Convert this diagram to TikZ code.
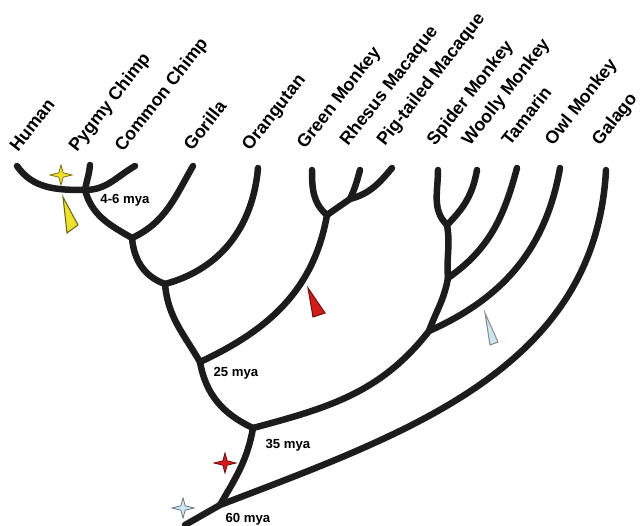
\documentclass[tikz,border=0pt]{standalone}
\usepackage{fontspec}
\setmainfont{Liberation Sans}
\usepackage{tikz}
\usetikzlibrary{positioning}

\definecolor{branchgray}{HTML}{1C1C1C}
\definecolor{markyellow}{HTML}{EEE22E}
\definecolor{markred}{HTML}{D21C1C}
\definecolor{markblue}{HTML}{CDE7F1}

\tikzset{
	branch/.style={draw=branchgray, line width=3.7pt, line cap=round},
	taxon/.style={rotate=52, anchor=base west, inner sep=0pt, font=\bfseries\fontsize{10.2}{11}\selectfont},
	age/.style={inner sep=0pt, font=\bfseries\fontsize{7.5}{8}\selectfont},
	pointer/.style={line width=0.6pt, line join=miter},
	pics/sparkle/.style={code={\filldraw[line width=0.45pt, draw=#1!50!black, fill=#1] (11,0) -- (2.2,2.2) -- (0,10) -- (-2.2,2.2) -- (-11,0) -- (-2.2,-2.2) -- (0,-10) -- (2.2,-2.2) -- cycle;}}
}

\begin{document}
\begin{tikzpicture}[x=0.02cm, y=0.02cm]
	\useasboundingbox (0,0) rectangle (640,525);
	% Tips and forks:
	\coordinate (human) at (17,359);
	\coordinate (pygmy) at (90,360);
	\coordinate (cchimp) at (135,359);
	\coordinate (gorilla) at (193,359);
	\coordinate (orang) at (258,357);
	\coordinate (green) at (312,355);
	\coordinate (rhesus) at (360,355);
	\coordinate (pigtail) at (392,357);
	\coordinate (spider) at (438,355);
	\coordinate (woolly) at (477,355);
	\coordinate (tamarin) at (517,357);
	\coordinate (owl) at (560,357);
	\coordinate (galago) at (606,355);
	\coordinate (jHC) at (85,335);
	\coordinate (jGor) at (132,287);
	\coordinate (jOra) at (165,241);
	\coordinate (j25) at (200,163);
	\coordinate (jOW) at (327,310);
	\coordinate (jMac) at (350,326);
	\coordinate (j35) at (253,97);
	\coordinate (jNW) at (429,194);
	\coordinate (jTam) at (448,247);
	\coordinate (jSW) at (447,300);
	\coordinate (j60) at (220,20);
	\coordinate (root) at (185,0);
	% Branches:
	\draw[branch] (human) to[out=-55, in=180] (jHC) to[out=0, in=-150] (cchimp);
	\draw[branch] (jHC) to[out=80, in=-95] (pygmy);
	\draw[branch] (jHC) to[out=-75, in=150] (jGor);
	\draw[branch] (jGor) to[out=25, in=-120] (gorilla);
	\draw[branch] (jGor) to[out=-85, in=160] (jOra);
	\draw[branch] (jOra) to[out=15, in=-95] (orang);
	\draw[branch] (jOra) to[out=-85, in=120] (j25);
	\draw[branch] (j25) to[out=25, in=-100] (jOW);
	\draw[branch] (jOW) to[out=140, in=-90] (green);
	\draw[branch] (jOW) to[out=35, in=-145] (jMac);
	\draw[branch] (jMac) to[out=65, in=-105] (rhesus);
	\draw[branch] (jMac) to[out=15, in=-130] (pigtail);
	\draw[branch] (j25) to[out=-80, in=155] (j35);
	\draw[branch] (j35) to[out=15, in=-128] (jNW);
	\draw[branch] (jNW) to[out=24, in=-100] (owl);
	\draw[branch] (jNW) to[out=70, in=-100] (jTam);
	\draw[branch] (jTam) to[out=35, in=-105] (tamarin);
	\draw[branch] (jTam) to[out=95, in=-80] (jSW);
	\draw[branch] (jSW) to[out=135, in=-90] (spider);
	\draw[branch] (jSW) to[out=45, in=-100] (woolly);
	\draw[branch] (j35) to[out=-100, in=60] (j60);
	\draw[branch] (j60) to[out=21, in=-93] (galago);
	\draw[branch] (j60) -- (root);
	% Taxon names:
	\node[taxon] (Lhuman) at (18,372) {Human};
	\node[taxon] (Lpygmy) at (77,372) {Pygmy Chimp};
	\node[taxon] (Lcchimp) at (123,372) {Common Chimp};
	\node[taxon] (Lgorilla) at (192,373) {Gorilla};
	\node[taxon] (Lorang) at (250,373) {Orangutan};
	\node[taxon] (Lgreen) at (305,375) {Green Monkey};
	\node[taxon] (Lrhesus) at (348,378) {Rhesus Macaque};
	\node[taxon] (Lpigtail) at (385,378) {Pig-tailed Macaque};
	\node[taxon] (Lspider) at (435,378) {Spider Monkey};
	\node[taxon] (Lwoolly) at (470,378) {Woolly Monkey};
	\node[taxon] (Ltamarin) at (510,378) {Tamarin};
	\node[taxon] (Lowl) at (553,378) {Owl Monkey};
	\node[taxon] (Lgalago) at (600,378) {Galago};
	% Ages:
	\node[age] (A46) at (125,325) {4-6 mya};
	\node[age] (A25) at (236,152) {25 mya};
	\node[age] (A35) at (288,80) {35 mya};
	\node[age] (A60) at (248,6) {60 mya};
	% Pointers and stars:
	\filldraw[pointer, draw=markyellow!45!black, fill=markyellow] (63,328) -- (67,292) -- (78,300) -- cycle;
	\filldraw[pointer, draw=markred!55!black, fill=markred] (308,237) -- (313,208) -- (325,212) -- cycle;
	\filldraw[pointer, draw=black!45, fill=markblue] (485,212) -- (490,180) -- (498,183) -- cycle;
	\pic at (61,350) {sparkle=markyellow};
	\pic at (225,62) {sparkle=markred};
	\pic at (183,17) {sparkle=markblue};
\end{tikzpicture}
\end{document}
